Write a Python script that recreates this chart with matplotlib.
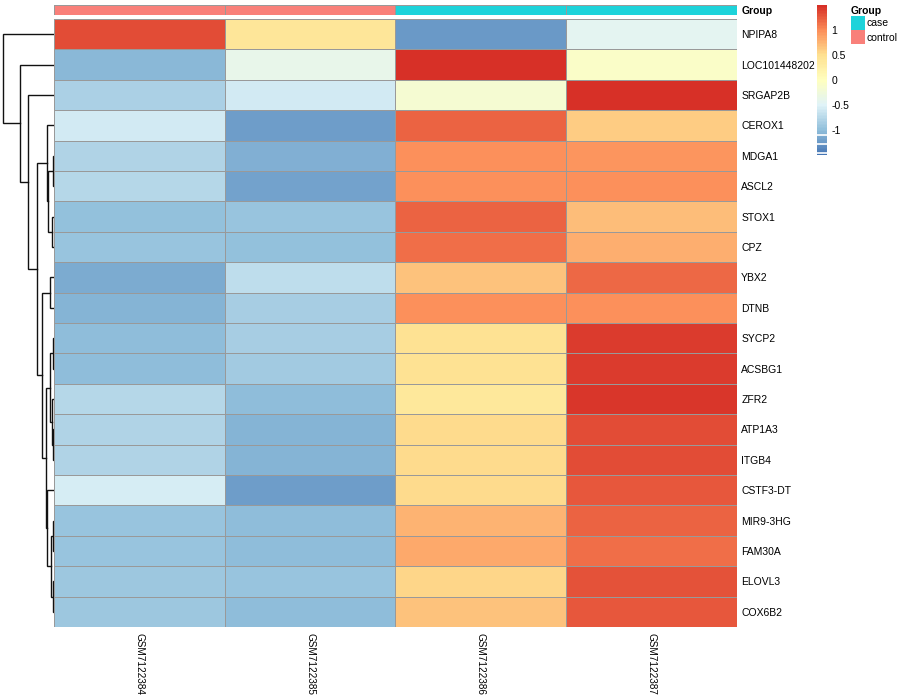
import numpy as np
import matplotlib
matplotlib.use("Agg")
import matplotlib.pyplot as plt
from matplotlib.colors import LinearSegmentedColormap, ListedColormap
from matplotlib.patches import Patch

plt.rcParams['font.family'] = ['Liberation Sans', 'DejaVu Sans']

# data (row z-scores)
samples = ["GSM7122384", "GSM7122385", "GSM7122386", "GSM7122387"]
groups = ["control", "control", "case", "case"]
genes = ["NPIPA8", "LOC101448202", "SRGAP2B", "CEROX1", "MDGA1", "ASCL2",
         "STOX1", "CPZ", "YBX2", "DTNB", "SYCP2", "ACSBG1", "ZFR2", "ATP1A3",
         "ITGB4", "CSTF3-DT", "MIR9-3HG", "FAM30A", "ELOVL3", "COX6B2"]
col1 = [1.32, -1.04, -0.84, -0.58, -0.80, -0.77, -0.98, -0.96, -1.12, -1.07,
        -1.02, -1.02, -0.77, -0.80, -0.80, -0.56, -0.94, -0.94, -0.91, -0.91]
col2 = [0.40, -0.37, -0.60, -1.23, -1.09, -1.18, -0.94, -0.98, -0.70, -0.86,
        -0.86, -0.88, -1.02, -1.07, -1.07, -1.23, -1.02, -1.02, -0.94, -1.02]
col3 = [-1.26, 1.48, -0.16, 1.20, 0.96, 0.98, 1.20, 1.15, 0.66, 0.96,
        0.45, 0.45, 0.37, 0.53, 0.53, 0.53, 0.75, 0.81, 0.56, 0.66]
col4 = [-0.43, -0.08, 1.49, 0.62, 0.94, 0.96, 0.72, 0.79, 1.18, 0.96,
        1.42, 1.42, 1.45, 1.34, 1.34, 1.26, 1.21, 1.16, 1.31, 1.26]

# row dendrogram merges: (node, left, right, height)
merges = [("m1", "MDGA1", "ASCL2", 1.0),
          ("m2", "STOX1", "CPZ", 2.0),
          ("m3", "m1", "m2", 5.7),
          ("m4", "CEROX1", "m3", 7.3),
          ("m5", "YBX2", "DTNB", 4.0),
          ("m6", "SYCP2", "ACSBG1", 0.7),
          ("m7", "ATP1A3", "ITGB4", 0.7),
          ("m8", "ZFR2", "m7", 2.3),
          ("m9", "m6", "m8", 4.0),
          ("m10", "MIR9-3HG", "FAM30A", 0.7),
          ("m11", "ELOVL3", "COX6B2", 1.0),
          ("m12", "m10", "m11", 3.0),
          ("m13", "CSTF3-DT", "m12", 7.0),
          ("m14", "m9", "m13", 8.0),
          ("m15", "m5", "m14", 11.7),
          ("m16", "m4", "m15", 17.3),
          ("m17", "SRGAP2B", "m16", 25.7),
          ("m18", "LOC101448202", "m17", 34.0),
          ("m19", "NPIPA8", "m18", 51.5)]

group_colors = {"case": "#1DD3DA", "control": "#F9807A"}
palette = ["#4575B4", "#91BFDB", "#E0F3F8", "#FFFFBF", "#FEE090", "#FC8D59", "#D73027"]
cmap = LinearSegmentedColormap.from_list("rdylbu", palette, N=100)
vlim = 1.5

W, H = 900, 700
fig = plt.figure(figsize=(9, 7), dpi=100)

def box(x0, y0, x1, y1):
    # pixel box (top-left origin) -> figure rect
    return [x0 / W, 1 - y1 / H, (x1 - x0) / W, (y1 - y0) / H]

mat = np.column_stack([col1, col2, col3, col4])
nr, nc = mat.shape

# heatmap
ax = fig.add_axes(box(54, 19, 737, 627))
mesh = ax.pcolormesh(mat, cmap=cmap, vmin=-vlim, vmax=vlim,
                     edgecolors="#999999", linewidth=0.5)
ax.set_xlim(0, nc)
ax.set_ylim(nr, 0)
ax.yaxis.tick_right()
ax.set_yticks(np.arange(nr) + 0.5)
ax.set_yticklabels(genes, fontsize=7.5)
ax.set_xticks(np.arange(nc) + 0.5)
ax.set_xticklabels(samples, fontsize=7.2, rotation=270, va="top")
ax.tick_params(axis="y", length=0, pad=3)
ax.tick_params(axis="x", length=0, pad=4)
for s in ax.spines.values():
    s.set_visible(False)

# annotation bar
axa = fig.add_axes(box(54, 5, 737, 15))
gcodes = np.array([[0 if g == "case" else 1 for g in groups]])
axa.pcolormesh(gcodes, cmap=ListedColormap([group_colors["case"], group_colors["control"]]),
               vmin=0, vmax=1, edgecolors="#999999", linewidth=0.5)
axa.set_xlim(0, nc)
axa.set_ylim(1, 0)
axa.set_xticks([])
axa.yaxis.tick_right()
axa.set_yticks([0.5])
axa.set_yticklabels(["Group"], fontsize=7.5, fontweight="bold")
axa.tick_params(length=0, pad=3)
for s in axa.spines.values():
    s.set_visible(False)

# dendrogram
axd = fig.add_axes(box(2, 19, 54, 627))
pos = {g: (i + 0.5, 0.0) for i, g in enumerate(genes)}
for node, left, right, h in merges:
    yl, hl = pos[left]
    yr, hr = pos[right]
    axd.plot([hl, h, h, hr], [yl, yl, yr, yr], color="#111111", lw=1.0,
             solid_joinstyle="miter")
    pos[node] = ((yl + yr) / 2, h)
axd.set_xlim(52, 0)
axd.set_ylim(nr, 0)
axd.axis("off")

# colour key
axc = fig.add_axes(box(817, 5, 827, 155))
cb = fig.colorbar(mesh, cax=axc, ticks=[-1, -0.5, 0, 0.5, 1])
cb.outline.set_visible(False)
cb.ax.set_yticklabels(["-1", "-0.5", "0", "0.5", "1"], fontsize=7.5)
cb.ax.tick_params(length=0, pad=3)
for v in [-1.10, -1.285, -1.45]:
    axc.axhline(v, color="white", lw=1.2)

# group legend
handles = [Patch(facecolor=group_colors[k], edgecolor="none") for k in ["case", "control"]]
leg = fig.legend(handles, ["case", "control"], title="Group", loc="upper left",
                 bbox_to_anchor=(849 / W, 1 - 4 / H), frameon=False, fontsize=7.5,
                 title_fontsize=7.5, handlelength=1.3, handleheight=1.7,
                 handletextpad=0.15, labelspacing=0.0, borderaxespad=0, borderpad=0.2)
leg.get_title().set_fontweight("bold")
leg._legend_box.align = "left"

fig.savefig("out.png", dpi=100)
